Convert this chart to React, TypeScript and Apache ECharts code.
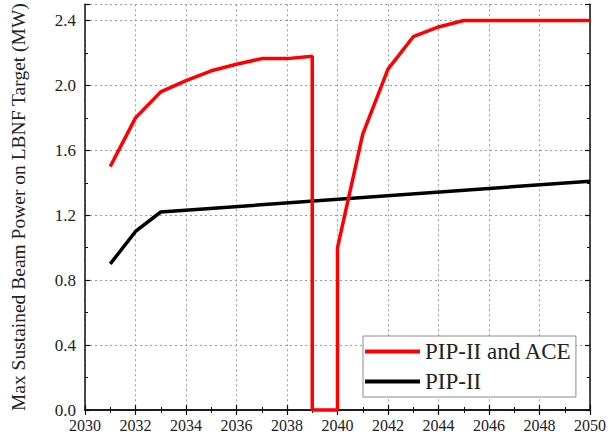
import React, { useEffect, useRef } from "react";
import * as echarts from "echarts";

const aceName = "PIP-II and ACE";
const pipName = "PIP-II";
const aceYears = [2031, 2032, 2033, 2034, 2035, 2036, 2037, 2038, 2039, 2039, 2040, 2040, 2041, 2042, 2043, 2044, 2045, 2050];
const aceValues = [1.5, 1.8, 1.96, 2.03, 2.09, 2.13, 2.165, 2.165, 2.18, 0, 0, 1.0, 1.7, 2.1, 2.3, 2.36, 2.4, 2.4];
const pipYears = [2031, 2032, 2033, 2050];
const pipValues = [0.9, 1.1, 1.22, 1.41];
const yTitle = "Max Sustained Beam Power on LBNF Target (MW)";

const FONT = "'Liberation Serif', 'Times New Roman', serif";

export default function App() {
  const ref = useRef<HTMLDivElement>(null);
  useEffect(() => {
    if (!ref.current) return;
    const chart = echarts.init(ref.current, null, { renderer: "svg" });
    const axisLine = { show: true, lineStyle: { color: "#111", width: 1.5 } };
    const tick = { show: true, inside: true, length: 5, lineStyle: { color: "#111", width: 1.2 } };
    const minor = { show: true, splitNumber: 2, length: 3, lineStyle: { color: "#111", width: 1 } };
    const grid = { show: true, lineStyle: { color: "#9a9a9a", width: 1, type: [2, 3] as any } };
    chart.setOption({
      animation: false,
      backgroundColor: "#fff",
      textStyle: { fontFamily: FONT },
      grid: { left: 84, right: 16, top: 4, bottom: 27, containLabel: false },
      xAxis: [
        {
          type: "value", min: 2030, max: 2050, interval: 2, position: "bottom",
          axisLine, axisTick: tick, minorTick: minor, splitLine: grid,
          axisLabel: { color: "#222", fontSize: 16, fontFamily: FONT, margin: 7, formatter: (v: number) => String(v) },
        },
        {
          type: "value", min: 2030, max: 2050, interval: 2, position: "top",
          axisLine, axisTick: tick, minorTick: minor, splitLine: { show: false },
          axisLabel: { show: false },
        },
      ],
      yAxis: [
        {
          type: "value", min: 0, max: 2.5, interval: 0.4, position: "left",
          axisLine, axisTick: tick, minorTick: minor, splitLine: grid,
          axisLabel: { color: "#222", fontSize: 17, fontFamily: FONT, margin: 9, showMaxLabel: false, formatter: (v: number) => v.toFixed(1) },
          name: yTitle, nameLocation: "middle", nameGap: 57,
          nameTextStyle: { color: "#222", fontSize: 19.5, fontFamily: FONT },
        },
        {
          type: "value", min: 0, max: 2.5, interval: 0.4, position: "right",
          axisLine, axisTick: tick, minorTick: minor, splitLine: { show: false },
          axisLabel: { show: false },
        },
      ],
      legend: {
        data: [aceName, pipName],
        orient: "vertical",
        left: 363, top: 336,
        padding: [4, 4, 4, 2],
        itemGap: 7,
        itemWidth: 55, itemHeight: 4,
        icon: "rect",
        backgroundColor: "#fff",
        borderColor: "#8a8a8a", borderWidth: 1,
        textStyle: { color: "#222", fontSize: 23, fontFamily: FONT },
      },
      series: [
        {
          name: pipName, type: "line", xAxisIndex: 0, yAxisIndex: 0,
          data: pipYears.map((y, i) => [y, pipValues[i]]),
          showSymbol: false, lineStyle: { color: "#000", width: 3.5 }, itemStyle: { color: "#000" },
          clip: false,
        },
        {
          name: aceName, type: "line", xAxisIndex: 0, yAxisIndex: 0,
          data: aceYears.map((y, i) => [y, aceValues[i]]),
          showSymbol: false, lineStyle: { color: "#ff0000", width: 3.5 }, itemStyle: { color: "#ff0000" },
          clip: false,
        },
      ],
    });
    return () => chart.dispose();
  }, []);
  return <div ref={ref} style={{ width: 609, height: 437, position: "absolute", left: 0, top: 0 }} />;
}
